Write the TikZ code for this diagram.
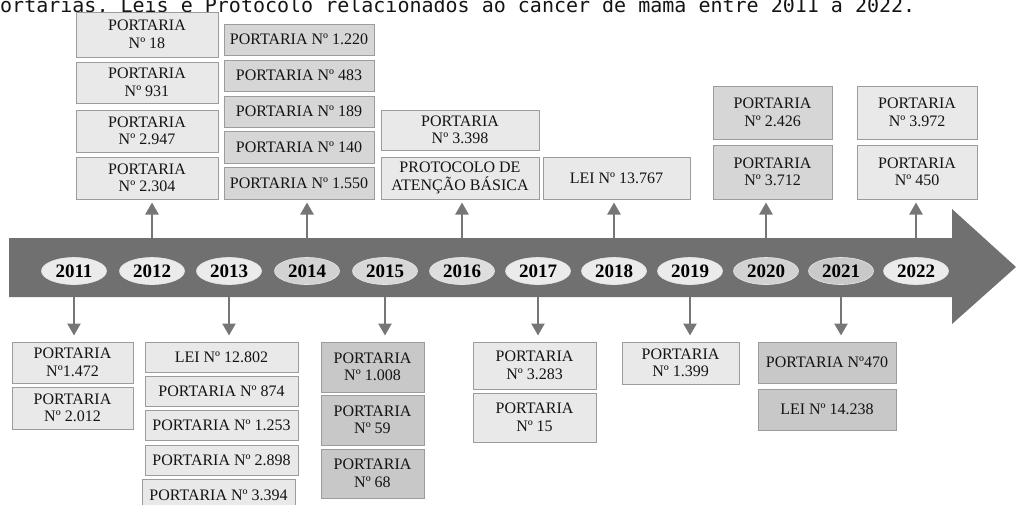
\documentclass[tikz,border=0pt]{standalone}
\usepackage{fontspec}
\setmainfont{Liberation Serif}
\newfontfamily\titlefont{DejaVu Sans Mono}
\usetikzlibrary{arrows.meta,shapes.geometric}
\definecolor{bandcol}{HTML}{707070}
\definecolor{lightbox}{HTML}{E9E9E9}
\definecolor{midbox}{HTML}{D6D6D6}
\definecolor{darkbox}{HTML}{C8C8C8}
\definecolor{boxline}{HTML}{9C9C9C}
\definecolor{arrcol}{HTML}{767676}
\definecolor{yrlight}{HTML}{EBEBEB}
\definecolor{yrmid}{HTML}{D2D2D2}
\definecolor{yrmid2}{HTML}{D8D8D8}
\definecolor{yrmid3}{HTML}{DEDEDE}
\definecolor{yrdark}{HTML}{C9C9C9}
\definecolor{txt}{HTML}{141414}
\newcommand{\bx}[7]{%
  \pgfmathsetmacro{\bxw}{#4-#2}\pgfmathsetmacro{\bxh}{#5-#3}%
  \pgfmathsetmacro{\bxcx}{(#2+#4)/2}\pgfmathsetmacro{\bxcy}{(#3+#5)/2}%
  \node[boxnode,fill=#6,minimum width=\bxw pt,minimum height=\bxh pt] (#1) at (\bxcx,\bxcy) {#7};}
\begin{document}
\begin{tikzpicture}[x=1pt,y=-1pt,
  boxnode/.style={draw=boxline,line width=1pt,inner sep=1pt,align=center,text=txt,
    font=\fontsize{16}{17.5}\selectfont},
  yearnode/.style={ellipse,draw=white!80!gray,line width=0.6pt,minimum width=65pt,minimum height=27pt,
    inner sep=0pt,font=\bfseries\fontsize{19}{19}\selectfont,text=black},
  conn/.style={draw=arrcol,line width=2.5pt,-{Triangle[width=13pt,length=12pt]}}]
\useasboundingbox (0,0) rectangle (1016,504);
% title
\node[anchor=base west,inner sep=0pt,font=\titlefont\fontsize{20}{20}\selectfont,text=txt] (title) at (0,12)
  {ortarias, Leis e Protocolo relacionados ao câncer de mama entre 2011 a 2022.};
% band
\fill[bandcol] (9,238) -- (952,238) -- (952,209) -- (1016,267) -- (952,324) -- (952,297) -- (9,297) -- cycle;
\coordinate (bt) at (0,238);
\coordinate (bb) at (0,297);
% years
\node[yearnode,fill=yrlight] (y2011) at (74,271) {2011};
\node[yearnode,fill=yrlight] (y2012) at (152,271) {2012};
\node[yearnode,fill=yrlight] (y2013) at (229,271) {2013};
\node[yearnode,fill=yrmid] (y2014) at (307,271) {2014};
\node[yearnode,fill=yrmid2] (y2015) at (385,271) {2015};
\node[yearnode,fill=yrmid3] (y2016) at (462,271) {2016};
\node[yearnode,fill=yrlight] (y2017) at (538,271) {2017};
\node[yearnode,fill=yrlight] (y2018) at (614,271) {2018};
\node[yearnode,fill=yrlight] (y2019) at (690,271) {2019};
\node[yearnode,fill=yrmid] (y2020) at (766,271) {2020};
\node[yearnode,fill=yrdark] (y2021) at (841,271) {2021};
\node[yearnode,fill=yrlight] (y2022) at (916,271) {2022};
% top boxes
\bx{a1}{76}{12}{218}{57}{lightbox}{PORTARIA\\Nº 18}
\bx{a2}{76}{62}{218}{103}{lightbox}{PORTARIA\\Nº 931}
\bx{a3}{76}{110}{218}{152}{lightbox}{PORTARIA\\Nº 2.947}
\bx{a4}{76}{157}{218}{199}{lightbox}{PORTARIA\\Nº 2.304}
\bx{b1}{224}{24}{374}{55}{midbox}{PORTARIA Nº 1.220}
\bx{b2}{224}{60}{374}{91}{midbox}{PORTARIA Nº 483}
\bx{b3}{224}{96}{374}{127}{midbox}{PORTARIA Nº 189}
\bx{b4}{224}{131}{374}{163}{midbox}{PORTARIA Nº 140}
\bx{b5}{224}{167}{374}{199}{midbox}{PORTARIA Nº 1.550}
\bx{c1}{381}{110}{539}{150}{lightbox}{PORTARIA\\Nº 3.398}
\bx{c2}{381}{157}{539}{199}{lightbox}{PROTOCOLO DE\\ATENÇÃO BÁSICA}
\bx{d1}{543}{157}{690}{199}{lightbox}{LEI Nº 13.767}
\bx{e1}{713}{86}{832}{139}{midbox}{PORTARIA\\Nº 2.426}
\bx{e2}{713}{145}{832}{199}{midbox}{PORTARIA\\Nº 3.712}
\bx{f1}{857}{86}{977}{139}{lightbox}{PORTARIA\\Nº 3.972}
\bx{f2}{857}{145}{977}{199}{lightbox}{PORTARIA\\Nº 450}
% bottom boxes
\bx{g1}{12}{342}{133}{383}{lightbox}{PORTARIA\\Nº1.472}
\bx{g2}{12}{387}{133}{429}{lightbox}{PORTARIA\\Nº 2.012}
\bx{h1}{145}{342}{298}{372}{lightbox}{LEI Nº 12.802}
\bx{h2}{145}{376}{298}{406}{lightbox}{PORTARIA Nº 874}
\bx{h3}{145}{410}{298}{440}{lightbox}{PORTARIA Nº 1.253}
\bx{h4}{145}{445}{298}{475}{lightbox}{PORTARIA Nº 2.898}
\bx{h5}{142}{479}{295}{511}{lightbox}{PORTARIA Nº 3.394}
\bx{i1}{321}{342}{424}{392}{darkbox}{PORTARIA\\Nº 1.008}
\bx{i2}{321}{395}{424}{445}{darkbox}{PORTARIA\\Nº 59}
\bx{i3}{321}{449}{424}{498}{darkbox}{PORTARIA\\Nº 68}
\bx{j1}{473}{342}{596}{389}{lightbox}{PORTARIA\\Nº 3.283}
\bx{j2}{473}{393}{596}{442}{lightbox}{PORTARIA\\Nº 15}
\bx{k1}{622}{342}{739}{384}{lightbox}{PORTARIA\\Nº 1.399}
\bx{l1}{758}{342}{896}{383}{darkbox}{PORTARIA Nº470}
\bx{l2}{758}{389}{896}{430}{darkbox}{LEI Nº 14.238}
% up arrows
\draw[conn,shorten >=3pt] (y2012 |- bt) -- (y2012 |- a4.south);
\draw[conn,shorten >=3pt] (y2014 |- bt) -- (y2014 |- b5.south);
\draw[conn,shorten >=3pt] (y2016 |- bt) -- (y2016 |- c2.south);
\draw[conn,shorten >=3pt] (y2018 |- bt) -- (y2018 |- d1.south);
\draw[conn,shorten >=3pt] (y2020 |- bt) -- (y2020 |- e2.south);
\draw[conn,shorten >=3pt] (y2022 |- bt) -- (y2022 |- f2.south);
% down arrows
\draw[conn,shorten >=6pt] (y2011 |- bb) -- (y2011 |- g1.north);
\draw[conn,shorten >=6pt] (y2013 |- bb) -- (y2013 |- h1.north);
\draw[conn,shorten >=6pt] (y2015 |- bb) -- (y2015 |- i1.north);
\draw[conn,shorten >=6pt] (y2017 |- bb) -- (y2017 |- j1.north);
\draw[conn,shorten >=6pt] (y2019 |- bb) -- (y2019 |- k1.north);
\draw[conn,shorten >=6pt] (y2021 |- bb) -- (y2021 |- l1.north);
\end{tikzpicture}
\end{document}
